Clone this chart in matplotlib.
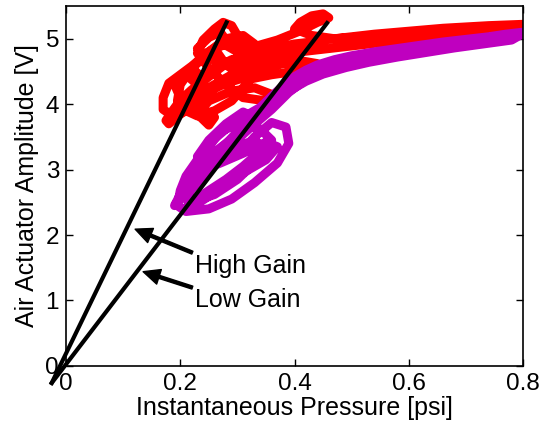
import matplotlib.pyplot as plt

plt.rcParams['font.family'] = ['Liberation Sans', 'DejaVu Sans']

# Red trace: actuator amplitude vs pressure (high gain run)
red_x = [0.80, 0.77, 0.74, 0.70, 0.66, 0.62, 0.58, 0.54, 0.50, 0.46, 0.43, 0.40,
         0.37, 0.34, 0.31, 0.28, 0.25, 0.22, 0.20, 0.185, 0.175, 0.18, 0.20,
         0.22, 0.23, 0.21, 0.19, 0.20, 0.23, 0.26, 0.25, 0.23, 0.25, 0.29,
         0.33, 0.36, 0.35, 0.31, 0.28, 0.25, 0.23, 0.24, 0.26, 0.275, 0.29,
         0.30, 0.28, 0.30, 0.33, 0.31, 0.28, 0.25, 0.22, 0.20, 0.18, 0.17,
         0.17, 0.19, 0.22, 0.26, 0.30, 0.34, 0.38, 0.42, 0.40, 0.36, 0.32,
         0.28, 0.26, 0.29, 0.33, 0.37, 0.41, 0.44, 0.46, 0.45, 0.43, 0.41,
         0.40, 0.43, 0.47, 0.52, 0.58, 0.64, 0.70, 0.76, 0.80,
         0.78, 0.72, 0.66, 0.60, 0.54, 0.49, 0.45, 0.41, 0.38, 0.35, 0.32,
         0.30, 0.27, 0.24, 0.22, 0.21, 0.23, 0.26, 0.29, 0.31, 0.33, 0.34,
         0.32, 0.29, 0.26, 0.24, 0.22, 0.24, 0.27, 0.30, 0.33, 0.35, 0.37,
         0.34, 0.31, 0.28, 0.25, 0.23, 0.21, 0.195, 0.20, 0.22, 0.25, 0.28,
         0.27, 0.25, 0.23, 0.25, 0.28, 0.31, 0.34, 0.37, 0.40, 0.44]
red_y = [5.22, 5.21, 5.20, 5.18, 5.16, 5.13, 5.10, 5.07, 5.03, 4.99, 4.95, 4.92,
         4.87, 4.82, 4.75, 4.62, 4.42, 4.22, 4.06, 3.88, 3.75, 3.70, 3.85,
         4.10, 4.30, 4.45, 4.30, 4.10, 3.95, 3.80, 3.68, 3.85, 4.05, 4.20,
         4.25, 4.15, 4.05, 4.10, 4.30, 4.55, 4.78, 4.98, 5.15, 5.25, 5.20,
         5.05, 4.90, 4.80, 4.92, 5.05, 5.00, 4.80, 4.58, 4.45, 4.32, 4.10,
         3.92, 3.80, 3.95, 4.25, 4.45, 4.55, 4.62, 4.60, 4.50, 4.45, 4.38,
         4.60, 4.85, 4.95, 4.88, 4.98, 5.12, 5.25, 5.32, 5.38, 5.35, 5.25,
         5.15, 5.05, 5.00, 5.03, 5.08, 5.12, 5.15, 5.18, 5.20,
         5.12, 5.08, 5.03, 4.98, 4.93, 4.88, 4.84, 4.80, 4.76, 4.70, 4.62,
         4.50, 4.35, 4.20, 4.05, 3.90, 3.82, 3.90, 4.05, 4.25, 4.45, 4.62,
         4.72, 4.68, 4.55, 4.40, 4.55, 4.75, 4.90, 4.95, 4.85, 4.72, 4.60,
         4.48, 4.40, 4.32, 4.20, 4.02, 3.90, 4.05, 4.30, 4.55, 4.78, 4.98,
         5.10, 5.02, 4.85, 4.70, 4.62, 4.66, 4.72, 4.70, 4.68, 4.62]

# Magenta trace: actuator amplitude vs pressure (low gain run)
mag_x = [0.80, 0.77, 0.74, 0.70, 0.66, 0.62, 0.58, 0.54, 0.50, 0.47, 0.44,
         0.42, 0.40, 0.38, 0.36, 0.34, 0.31, 0.28, 0.25, 0.23, 0.21, 0.20,
         0.195, 0.21, 0.25, 0.29, 0.33, 0.37, 0.39, 0.385, 0.36, 0.33, 0.31,
         0.29, 0.26, 0.24, 0.22, 0.21, 0.23, 0.27, 0.31, 0.35, 0.37, 0.35,
         0.31, 0.27, 0.24, 0.23, 0.25, 0.28, 0.31, 0.33, 0.31, 0.28, 0.25,
         0.22, 0.20, 0.19, 0.20, 0.22, 0.25, 0.28, 0.32, 0.36, 0.39, 0.42,
         0.46, 0.50, 0.55, 0.60, 0.65, 0.70, 0.75, 0.80,
         0.78, 0.73, 0.68, 0.63, 0.58, 0.53, 0.49, 0.45, 0.42, 0.39, 0.36,
         0.33, 0.30, 0.27, 0.24, 0.22, 0.205, 0.22, 0.26, 0.30, 0.33, 0.35,
         0.33, 0.30, 0.27, 0.25, 0.27, 0.30, 0.34, 0.36, 0.34, 0.31, 0.28,
         0.25, 0.22, 0.21, 0.23, 0.26, 0.29, 0.32]
mag_y = [5.10, 5.07, 5.03, 4.99, 4.95, 4.90, 4.85, 4.80, 4.74, 4.68, 4.60,
         4.52, 4.42, 4.28, 4.12, 3.95, 3.80, 3.62, 3.40, 3.15, 2.90, 2.68,
         2.45, 2.36, 2.40, 2.55, 2.80, 3.10, 3.40, 3.65, 3.72, 3.50, 3.30,
         3.20, 3.10, 2.90, 2.70, 2.58, 2.55, 2.75, 2.95, 3.15, 3.35, 3.42,
         3.25, 3.10, 3.00, 3.20, 3.45, 3.70, 3.88, 3.80, 3.60, 3.40, 3.20,
         2.90, 2.62, 2.45, 2.55, 2.78, 3.00, 3.30, 3.62, 3.92, 4.18, 4.38,
         4.55, 4.66, 4.75, 4.84, 4.91, 4.97, 5.03, 5.08,
         4.98, 4.92, 4.86, 4.79, 4.72, 4.64, 4.56, 4.46, 4.35, 4.20, 4.02,
         3.82, 3.58, 3.30, 3.02, 2.78, 2.58, 2.50, 2.62, 2.85, 3.10, 3.30,
         3.45, 3.35, 3.15, 3.35, 3.58, 3.70, 3.62, 3.45, 3.28, 3.05, 2.85,
         2.68, 2.50, 2.42, 2.48, 2.65, 2.85, 3.05]

# Gain lines (pressure, amplitude endpoints)
high_gain_x = [-0.025, 0.281]
high_gain_y = [-0.26, 5.25]
low_gain_x = [-0.025, 0.457]
low_gain_y = [-0.26, 5.24]

xticks = [0, 0.2, 0.4, 0.6, 0.8]
yticks = [0, 1, 2, 3, 4, 5]

fig = plt.figure(figsize=(5.42, 4.30), dpi=100)
ax = fig.add_axes([0.1218, 0.149, 0.8432, 0.837])

ax.plot(red_x, red_y, color='#ff0000', lw=6.5, solid_capstyle='round',
        solid_joinstyle='round')
ax.plot(mag_x, mag_y, color='#bf00bf', lw=6.5, solid_capstyle='round',
        solid_joinstyle='round')

ax.plot(high_gain_x, high_gain_y, color='black', lw=3, clip_on=False)
ax.plot(low_gain_x, low_gain_y, color='black', lw=3, clip_on=False)

arrow = dict(facecolor='black', edgecolor='black', width=2.2, headwidth=11,
             headlength=12, shrink=0)
ax.annotate('High Gain', xy=(0.121, 2.09), xytext=(0.226, 1.53),
            fontsize=18, va='center', ha='left', arrowprops=arrow)
ax.annotate('Low Gain', xy=(0.135, 1.44), xytext=(0.226, 1.00),
            fontsize=18, va='center', ha='left', arrowprops=arrow)

ax.set_xlim(0, 0.8)
ax.set_ylim(0, 5.5)
ax.set_xticks(xticks)
ax.set_xticklabels(['0', '0.2', '0.4', '0.6', '0.8'])
ax.set_yticks(yticks)
ax.tick_params(direction='in', top=True, right=True, length=5, width=1,
               labelsize=17.5, pad=5)
for s in ax.spines.values():
    s.set_linewidth(1.2)

ax.set_xlabel('Instantaneous Pressure [psi]', fontsize=18, labelpad=1)
ax.set_ylabel('Air Actuator Amplitude [V]', fontsize=18, labelpad=5)

fig.savefig('out.png', dpi=100)
